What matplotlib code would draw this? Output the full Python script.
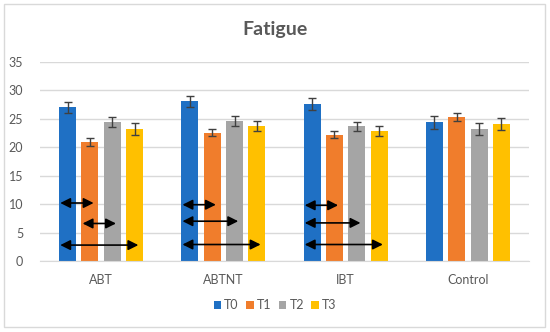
import numpy as np
import matplotlib.pyplot as plt
from matplotlib.patches import Rectangle

plt.rcParams['font.family'] = ['Lato', 'DejaVu Sans']

# Dados
grupos = ['ABT', 'ABTNT', 'IBT', 'Control']
series = ['T0', 'T1', 'T2', 'T3']
cores = ['#1f70c4', '#f07d2c', '#a5a5a5', '#ffc000']

t0 = [27.0, 28.1, 27.6, 24.4]
t1 = [20.9, 22.6, 22.2, 25.3]
t2 = [24.5, 24.6, 23.7, 23.2]
t3 = [23.2, 23.8, 22.9, 24.1]
valores = [t0, t1, t2, t3]

e0 = [1.0, 1.0, 1.0, 1.1]
e1 = [0.7, 0.6, 0.6, 0.7]
e2 = [0.9, 0.9, 0.8, 1.0]
e3 = [1.0, 0.9, 0.9, 1.0]
erros = [e0, e1, e2, e3]

# Setas de comparação: grupo, série inicial, série final, nível em y
seta_grupo = [0, 0, 0, 1, 1, 1, 2, 2, 2]
seta_de = [0, 1, 0, 0, 0, 0, 0, 0, 0]
seta_ate = [1, 2, 3, 1, 2, 3, 1, 2, 3]
seta_y = [10.2, 6.6, 2.8, 9.9, 7.0, 2.9, 9.8, 6.7, 2.9]

fig = plt.figure(figsize=(5.5, 3.32), dpi=100)
ax = fig.add_axes([40 / 550, 1 - 261 / 332, 489 / 550, 199 / 332])

x = np.arange(len(grupos))
passo = 0.183
largura = 0.139

for i, s in enumerate(series):
    pos = x + (i - 1.5) * passo
    ax.bar(pos, valores[i], width=largura, color=cores[i], label=s, zorder=2)
    ax.errorbar(pos, valores[i], yerr=erros[i], fmt='none', ecolor='#404040',
                elinewidth=1, capsize=3, capthick=1, zorder=3)

for g, a, b, yv in zip(seta_grupo, seta_de, seta_ate, seta_y):
    xa = g + (a - 1.5) * passo - 0.06
    xb = g + (b - 1.5) * passo + 0.03
    ax.annotate('', xy=(xb, yv), xytext=(xa, yv),
                arrowprops=dict(arrowstyle='<|-|>,head_length=0.5,head_width=0.25',
                                color='black', lw=1.2,
                                mutation_scale=12, shrinkA=0, shrinkB=0),
                zorder=4)

ax.set_xlim(-0.5, 3.5)
ax.set_ylim(0, 35)
ax.set_yticks(np.arange(0, 36, 5))
ax.set_xticks(x)
ax.set_xticklabels(grupos)
ax.grid(axis='y', color='#d9d9d9', lw=1, zorder=0)
ax.set_axisbelow(True)
for lado in ['top', 'right', 'left']:
    ax.spines[lado].set_visible(False)
ax.spines['bottom'].set_color('#d9d9d9')
ax.tick_params(axis='both', length=0, colors='#595959', labelsize=9)
ax.tick_params(axis='x', pad=9)
ax.tick_params(axis='y', pad=12)

fig.text(0.5, 1 - 30 / 332, 'Fatigue', ha='center', va='center',
         fontsize=14, fontweight='bold', color='#595959')

leg = fig.legend(loc='center', bbox_to_anchor=(0.5, 1 - 305 / 332), ncol=4,
                 frameon=False, fontsize=9, handlelength=0.6, handleheight=0.6,
                 handletextpad=0.25, columnspacing=0.6, labelcolor='#595959')

fig.patches.append(Rectangle((4 / 550, 5 / 332), 541 / 550, 323 / 332,
                             transform=fig.transFigure, fill=False,
                             edgecolor='#d9d9d9', lw=1))

fig.savefig('out.png', dpi=100)
